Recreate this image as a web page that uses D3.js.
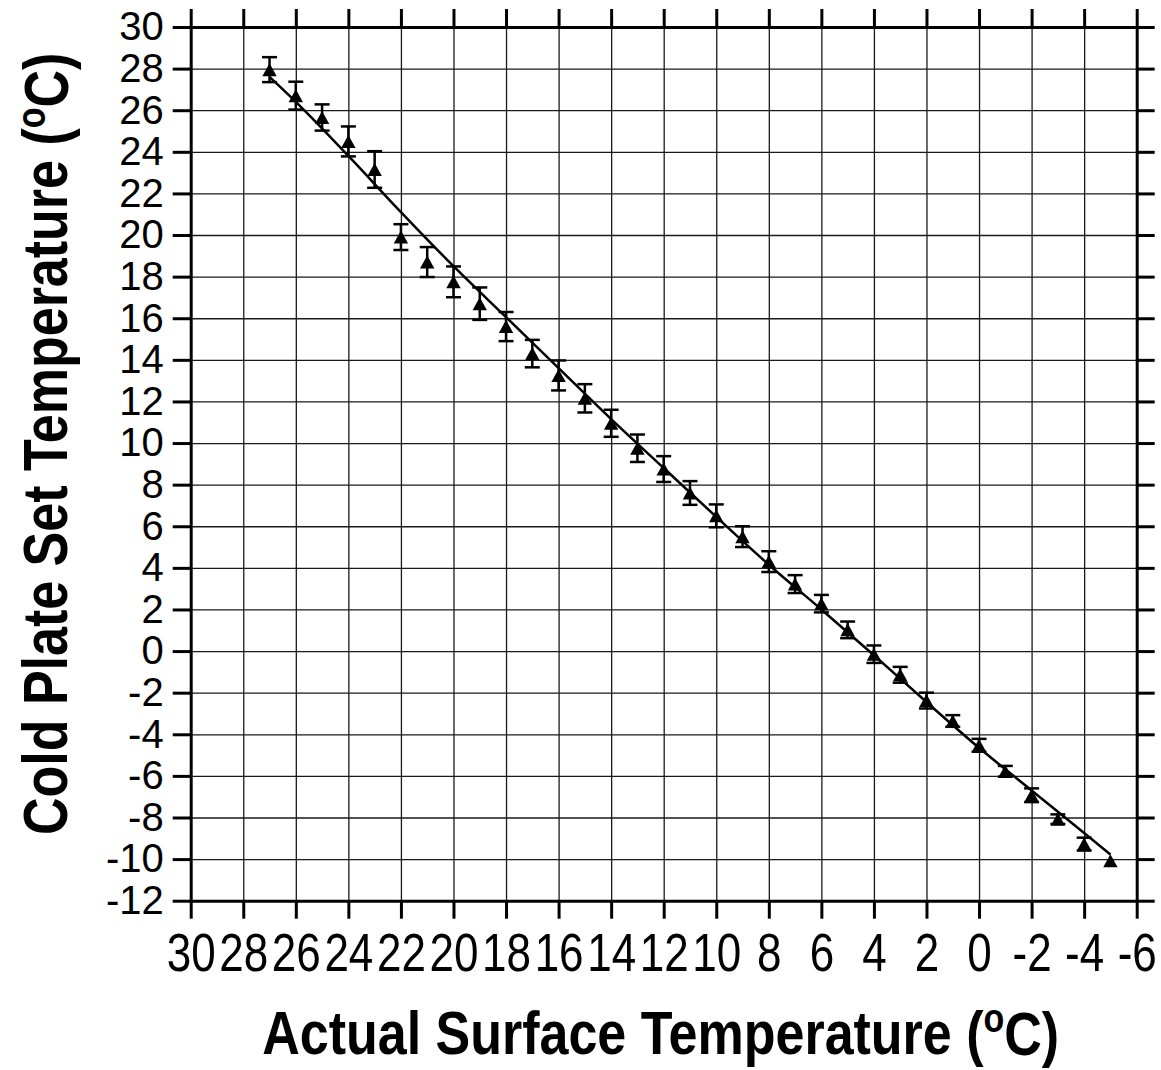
<!DOCTYPE html>
<html>
<head>
<meta charset="utf-8">
<script src="https://cdn.jsdelivr.net/npm/d3@7"></script>
<style>
  body { margin: 0; background: #fff; }
  svg { display: block; }
  text { font-family: "Liberation Sans", Arial, sans-serif; fill: #000; }
</style>
</head>
<body>
<div id="chart"></div>
<script>
// chart data
var surfaceTemps = [27, 26, 25, 24, 23, 22, 21, 20, 19, 18, 17, 16, 15, 14, 13, 12, 11,
   10, 9, 8, 7, 6, 5, 4, 3, 2, 1, 0, -1, -2, -3, -4, -5];
var plateTemps = [27.95, 26.7, 25.65, 24.5, 23.15, 19.9, 18.7, 17.75, 16.7, 15.6, 14.3, 13.25, 12.15, 10.95, 9.75, 8.75, 7.6,
   6.5, 5.5, 4.3, 3.22, 2.28, 1.02, -0.15, -1.14, -2.38, -3.36, -4.53, -5.78, -6.93, -8.08, -9.28, -10.08];
var plateErrors = [0.6, 0.67, 0.63, 0.72, 0.88, 0.62, 0.72, 0.74, 0.78, 0.7, 0.66, 0.72, 0.68, 0.65, 0.66, 0.62, 0.57,
   0.55, 0.5, 0.5, 0.43, 0.42, 0.4, 0.42, 0.38, 0.38, 0.28, 0.31, 0.26, 0.33, 0.23, 0.31, 0];

// fitted curve, read at a few x positions
var fitX = [27, 26, 24, 22, 20, 18, 16, 14, 12, 10, 8, 6, 4, 2, 0, -2, -4, -5];
var fitY = [27.6, 26.4, 23.8, 21.1, 18.5, 16.05, 13.6, 11.15, 8.8, 6.45, 4.15, 2.0, -0.2, -2.45, -4.65, -6.7, -8.75, -9.78];

var xTicks = d3.range(30, -7, -2);
var yTicks = d3.range(-12, 31, 2);

var svgWidth = 1161;
var svgHeight = 1070;

var margin = {
   top: 27,
   right: 24.3,
   bottom: 169.3,
   left: 190.7
};
var width = svgWidth - margin.left - margin.right;
var height = svgHeight - margin.top - margin.bottom;

var svg = d3.select("#chart")
   .append("svg")
   .attr("width", svgWidth)
   .attr("height", svgHeight);

var chartGroup = svg.append("g")
   .attr("transform", `translate(${margin.left}, ${margin.top})`);

// scales (x runs backwards, 30 on the left)
var xScale = d3.scaleLinear().domain([30, -6]).range([0, width]);
var yScale = d3.scaleLinear().domain([-12, 30]).range([height, 0]);

// grid
chartGroup.append("g")
   .attr("class", "grid")
   .call(d3.axisBottom(xScale).tickValues(xTicks).tickSize(height).tickFormat(""))
   .call(g => g.select(".domain").remove());
chartGroup.append("g")
   .attr("class", "grid")
   .call(d3.axisLeft(yScale).tickValues(yTicks).tickSize(-width).tickFormat(""))
   .call(g => g.select(".domain").remove());
chartGroup.selectAll(".grid line")
   .attr("stroke", "#1a1a1a")
   .attr("stroke-width", 1.3);

// axes on all four sides
var tickLen = 18;
var bottomAxis = chartGroup.append("g")
   .attr("transform", `translate(0, ${height})`)
   .call(d3.axisBottom(xScale).tickValues(xTicks).tickSize(tickLen).tickSizeOuter(0)
      .tickFormat(d => String(d)));
var leftAxis = chartGroup.append("g")
   .call(d3.axisLeft(yScale).tickValues(yTicks).tickSize(tickLen).tickSizeOuter(0)
      .tickPadding(9).tickFormat(d => String(d)));
var topAxis = chartGroup.append("g")
   .call(d3.axisTop(xScale).tickValues(xTicks).tickSize(tickLen).tickSizeOuter(0).tickFormat(""));
var rightAxis = chartGroup.append("g")
   .attr("transform", `translate(${width}, 0)`)
   .call(d3.axisRight(yScale).tickValues(yTicks).tickSize(tickLen).tickSizeOuter(0).tickFormat(""));

[bottomAxis, leftAxis, topAxis, rightAxis].forEach(function (ax) {
   ax.select(".domain").attr("stroke", "#000").attr("stroke-width", 3);
   ax.selectAll(".tick line").attr("stroke", "#000").attr("stroke-width", 3);
   ax.selectAll(".tick text")
      .style("font-family", '"Liberation Sans", Arial, sans-serif')
      .style("font-size", "40px")
      .attr("fill", "#000");
});
// x labels are drawn a bit taller in the original
bottomAxis.selectAll(".tick text")
   .style("font-size", "44px")
   .attr("y", 0)
   .attr("dy", "0.71em")
   .attr("transform", "translate(0, 32) scale(1, 1.22)");

// fit line
var fitData = fitX.map((d, i) => ({ x: d, y: fitY[i] }));
var fitLine = d3.line()
   .x(d => xScale(d.x))
   .y(d => yScale(d.y))
   .curve(d3.curveMonotoneX);
chartGroup.append("path")
   .datum(fitData)
   .attr("d", fitLine)
   .attr("fill", "none")
   .attr("stroke", "#000")
   .attr("stroke-width", 2.5);

// error bars
var pointData = surfaceTemps.map((d, i) => ({ x: d, y: plateTemps[i], err: plateErrors[i] }));
var capHalf = 7.5;
var errGroup = chartGroup.append("g")
   .attr("stroke", "#000")
   .attr("stroke-width", 2.5);
var errBars = errGroup.selectAll("g")
   .data(pointData.filter(d => d.err > 0))
   .enter()
   .append("g");
errBars.append("line")
   .attr("x1", d => xScale(d.x))
   .attr("x2", d => xScale(d.x))
   .attr("y1", d => yScale(d.y + d.err))
   .attr("y2", d => yScale(d.y - d.err));
errBars.append("line")
   .attr("x1", d => xScale(d.x) - capHalf)
   .attr("x2", d => xScale(d.x) + capHalf)
   .attr("y1", d => yScale(d.y + d.err))
   .attr("y2", d => yScale(d.y + d.err));
errBars.append("line")
   .attr("x1", d => xScale(d.x) - capHalf)
   .attr("x2", d => xScale(d.x) + capHalf)
   .attr("y1", d => yScale(d.y - d.err))
   .attr("y2", d => yScale(d.y - d.err));

// triangles
var triHalfW = 7.2;
var triHalfH = 6.5;
chartGroup.append("g")
   .selectAll("path")
   .data(pointData)
   .enter()
   .append("path")
   .attr("transform", d => `translate(${xScale(d.x)}, ${yScale(d.y)})`)
   .attr("d", `M0,${-triHalfH}L${triHalfW},${triHalfH}L${-triHalfW},${triHalfH}Z`)
   .attr("fill", "#000");

// axis titles (glyphs a little taller than normal, like the original)
var xTitle = svg.append("text")
   .attr("transform", `translate(${margin.left + width / 2 - 3}, 1054) scale(1, 1.17)`)
   .attr("text-anchor", "middle")
   .style("font-size", "52px")
   .style("font-weight", "bold");
xTitle.append("tspan").text("Actual Surface Temperature (");
xTitle.append("tspan").attr("dy", "-0.55em").style("font-size", "34px").text("o");
xTitle.append("tspan").attr("dy", "0.37em").text("C)");

var yTitle = svg.append("text")
   .attr("transform", `translate(67, ${margin.top + height / 2 - 20}) rotate(-90) scale(1, 1.2)`)
   .attr("text-anchor", "middle")
   .style("font-size", "52px")
   .style("font-weight", "bold");
yTitle.append("tspan").text("Cold Plate Set Temperature (");
yTitle.append("tspan").attr("dy", "-0.55em").style("font-size", "34px").text("o");
yTitle.append("tspan").attr("dy", "0.37em").text("C)");
</script>
</body>
</html>
